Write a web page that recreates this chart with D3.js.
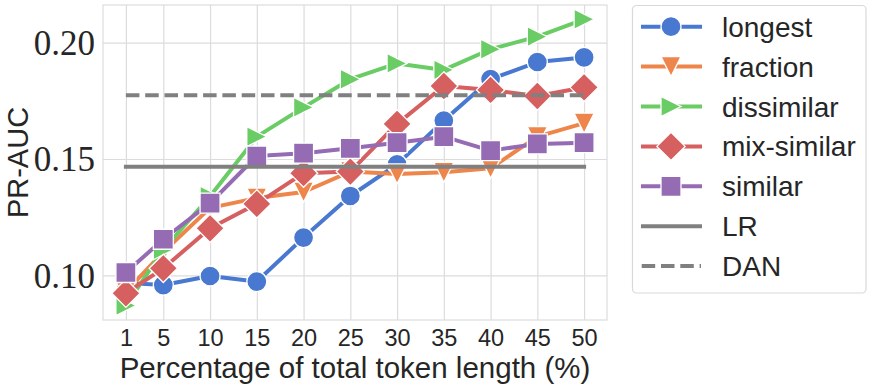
<!DOCTYPE html>
<html>
<head>
<meta charset="utf-8">
<script src="https://cdn.jsdelivr.net/npm/d3@7"></script>
<style>
  html, body { margin: 0; padding: 0; background: #fff; }
  svg { display: block; }
</style>
</head>
<body>
<svg id="chart" width="872" height="390"></svg>
<script>
// ---- data ----
const categories = [1, 5, 10, 15, 20, 25, 30, 35, 40, 45, 50];
const yTicks = [0.10, 0.15, 0.20];
const longest    = [0.0967, 0.0958, 0.0997, 0.0973, 0.1162, 0.1341, 0.1477, 0.1665, 0.1843, 0.1917, 0.1937];
const fraction   = [0.0930, 0.1100, 0.1290, 0.1332, 0.1358, 0.1446, 0.1436, 0.1443, 0.1460, 0.1596, 0.1654];
const dissimilar = [0.0870, 0.1110, 0.1340, 0.1596, 0.1722, 0.1843, 0.1911, 0.1883, 0.1972, 0.2026, 0.2101];
const mixSimilar = [0.0923, 0.1030, 0.1202, 0.1307, 0.1439, 0.1446, 0.1651, 0.1814, 0.1797, 0.1771, 0.1808];
const similar    = [0.1012, 0.1155, 0.1310, 0.1513, 0.1525, 0.1546, 0.1570, 0.1596, 0.1536, 0.1565, 0.1570];
const lrValue = 0.1467;
const danValue = 0.1774;
const seriesNames = ["longest", "fraction", "dissimilar", "mix-similar", "similar"];
const seriesValues = [longest, fraction, dissimilar, mixSimilar, similar];
const seriesColors = ["#4878d0", "#ee854a", "#6acc64", "#d65f5f", "#956cb4"];
const seriesMarkers = ["circle", "triDown", "triRight", "diamond", "square"];
const xLabel = "Percentage of total token length (%)";
const yLabel = "PR-AUC";

// ---- layout ----
const svg = d3.select("#chart");
const L = 103, R = 607, T = 5, B = 320;
const x = d3.scaleLinear().domain([-1.45, 52.45]).range([L, R]);
const y = d3.scaleLinear().domain([0.08078, 0.21621]).range([B, T]);
const gridColor = "#dcdcdc";
const sansFont = "'Liberation Sans', Arial, sans-serif";
const serifFont = "'Liberation Serif', 'Times New Roman', serif";

// grid via axes
const gx = svg.append("g").attr("transform", `translate(0,${B})`)
  .call(d3.axisBottom(x).tickValues(categories).tickSize(-(B - T)).tickFormat(d => d).tickPadding(9));
gx.select(".domain").remove();
gx.selectAll(".tick line").attr("stroke", gridColor).attr("stroke-width", 1.2);
gx.selectAll(".tick text").attr("font-family", sansFont).attr("font-size", 23.5).attr("fill", "#262626")
  .attr("dy", null).attr("y", 26).attr("dominant-baseline", "alphabetic");

const gy = svg.append("g").attr("transform", `translate(${L},0)`)
  .call(d3.axisLeft(y).tickValues(yTicks).tickSize(-(R - L)).tickFormat(d3.format(".2f")).tickPadding(8));
gy.select(".domain").remove();
gy.selectAll(".tick line").attr("stroke", gridColor).attr("stroke-width", 1.2);
gy.selectAll(".tick text").attr("font-family", serifFont).attr("font-size", 35).attr("fill", "#262626")
  .attr("dy", null).attr("y", 0).attr("x", -8).attr("dominant-baseline", "alphabetic")
  .attr("transform", "translate(0,12)");

// frame
svg.append("rect").attr("x", L).attr("y", T).attr("width", R - L).attr("height", B - T)
  .attr("fill", "none").attr("stroke", gridColor).attr("stroke-width", 1.2);

// markers
const S = 20;
function markerPath(type, s) {
  const h = s / 2;
  switch (type) {
    case "circle": return d3.symbol(d3.symbolCircle, Math.PI * h * h)();
    case "square": return `M${-h},${-h}H${h}V${h}H${-h}Z`;
    case "diamond": { const d = h * Math.SQRT2; return `M0,${-d}L${d},0L0,${d}L${-d},0Z`; }
    case "triDown": return `M${-h},${-h}L${h},${-h}L0,${h}Z`;
    case "triRight": return `M${-h},${-h}L${h},0L${-h},${h}Z`;
  }
}

const line = d3.line().x(d => x(d[0])).y(d => y(d[1]));
const plot = svg.append("g");
seriesValues.forEach((vals, i) => {
  const pts = categories.map((c, j) => [c, vals[j]]);
  const g = plot.append("g");
  g.append("path").attr("d", line(pts)).attr("fill", "none")
    .attr("stroke", seriesColors[i]).attr("stroke-width", 4).attr("stroke-linejoin", "round").attr("stroke-linecap", "square");
  g.selectAll("path.m").data(pts).enter().append("path").attr("class", "m")
    .attr("d", markerPath(seriesMarkers[i], S))
    .attr("transform", d => `translate(${x(d[0])},${y(d[1])})`)
    .attr("fill", seriesColors[i]).attr("stroke", "#fff").attr("stroke-width", 1.3);
});

// reference lines
plot.append("line").attr("x1", x(categories[0])).attr("x2", x(categories[categories.length - 1]))
  .attr("y1", y(lrValue)).attr("y2", y(lrValue))
  .attr("stroke", "#808080").attr("stroke-width", 4).attr("stroke-linecap", "square");
plot.append("line").attr("x1", x(categories[0])).attr("x2", x(categories[categories.length - 1]))
  .attr("y1", y(danValue)).attr("y2", y(danValue))
  .attr("stroke", "#808080").attr("stroke-width", 4).attr("stroke-dasharray", "13.5,5.8");

// axis labels
svg.append("text").attr("x", (L + R) / 2).attr("y", 377.5).attr("text-anchor", "middle")
  .attr("font-family", sansFont).attr("font-size", 29.5).attr("fill", "#262626").text(xLabel);
svg.append("text").attr("transform", `translate(27.5,${(T + B) / 2}) rotate(-90)`).attr("text-anchor", "middle")
  .attr("font-family", sansFont).attr("font-size", 29).attr("fill", "#262626").text(yLabel);

// legend
const leg = svg.append("g");
leg.append("rect").attr("x", 632.5).attr("y", 5.5).attr("width", 233.5).attr("height", 287.5)
  .attr("rx", 4).attr("fill", "#fff").attr("stroke", "#d9d9d9").attr("stroke-width", 1.2);
const legItems = seriesNames.map((n, i) => ({ name: n, color: seriesColors[i], marker: seriesMarkers[i], dash: null }))
  .concat([{ name: "LR", color: "#808080", marker: null, dash: null },
           { name: "DAN", color: "#808080", marker: null, dash: "13.5,5.8" }]);
legItems.forEach((it, i) => {
  const cy = 26.7 + i * 39.9;
  const g = leg.append("g");
  const ln = g.append("line").attr("x1", 643).attr("x2", 700).attr("y1", cy).attr("y2", cy)
    .attr("stroke", it.color).attr("stroke-width", 4);
  if (it.dash) ln.attr("stroke-dasharray", it.dash).attr("x1", 641.7).attr("x2", 701);
  else ln.attr("stroke-linecap", "square");
  if (it.marker) g.append("path").attr("d", markerPath(it.marker, S))
    .attr("transform", `translate(671,${cy})`).attr("fill", it.color).attr("stroke", "#fff").attr("stroke-width", 1.3);
  g.append("text").attr("x", 722).attr("y", cy + 10).attr("font-family", sansFont).attr("font-size", 28)
    .attr("fill", "#262626").text(it.name);
});
</script>
</body>
</html>
